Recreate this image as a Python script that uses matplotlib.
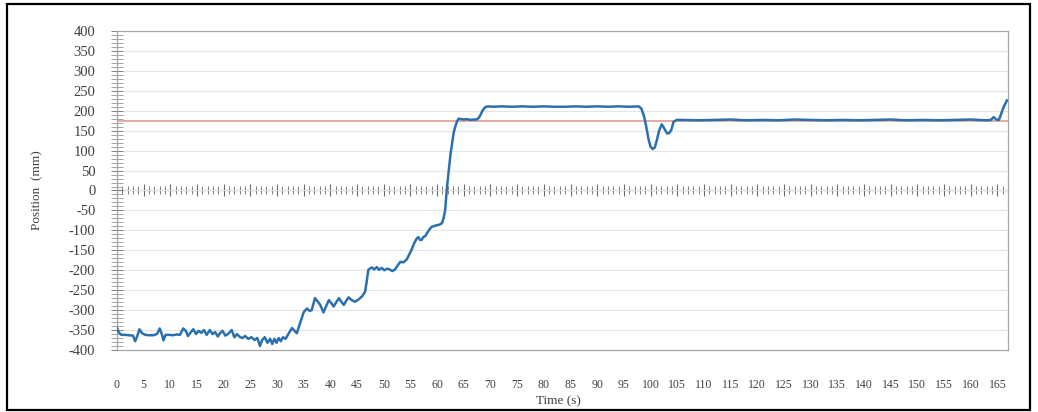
import matplotlib
matplotlib.use("Agg")
import matplotlib.pyplot as plt
from matplotlib.patches import Rectangle
from matplotlib.ticker import MultipleLocator, NullFormatter

plt.rcParams["axes.unicode_minus"] = False

# Measured position trace (time in s, position in mm)
time_s = [
    0.0, 0.3, 0.8, 1.5, 2.2, 3.0, 3.4, 3.8, 4.2, 4.7, 5.3, 6.0, 6.8, 7.5, 8.0,
    8.4, 8.7, 9.1, 9.8, 10.5, 11.2, 11.8, 12.4, 12.9, 13.3, 13.8, 14.3, 14.8,
    15.3, 15.8, 16.3, 16.8, 17.4, 17.9, 18.4, 18.9, 19.3, 19.8, 20.3, 20.8,
    21.5, 22.0, 22.5, 23.0, 23.5, 24.0, 24.6, 25.2, 25.8, 26.3, 26.8, 27.2,
    27.7, 28.2, 28.7, 29.1, 29.5, 29.9, 30.3, 30.7, 31.1, 31.6, 32.2, 32.8,
    33.3, 33.7, 34.3, 35.0, 35.6, 36.1, 36.5, 37.1, 37.6, 38.1, 38.7, 39.2,
    39.7, 40.2, 40.6, 41.1, 41.6, 42.0, 42.5, 43.0, 43.4, 44.0, 44.6, 45.2,
    45.9, 46.5, 46.8, 47.1, 47.5, 47.8, 48.2, 48.7, 49.1, 49.6, 50.1, 50.6,
    51.1, 51.6, 52.1, 52.6, 53.1, 53.7, 54.3, 54.8, 55.2, 55.7, 56.2, 56.5,
    56.8, 57.1, 57.4, 57.8, 58.1, 58.6, 59.0, 59.5, 59.9, 60.4, 60.9, 61.2,
    61.5, 61.8, 62.1, 62.5, 62.8, 63.1, 63.4, 63.7, 64.0, 64.5, 65.0, 65.6,
    66.2, 66.8, 67.4, 67.8, 68.1, 68.5, 69.0, 69.5, 70.5, 72.0, 74.0, 76.0,
    78.0, 80.0, 82.0, 84.0, 86.0, 88.0, 90.0, 92.0, 94.0, 96.0, 97.8, 98.3,
    98.8, 99.2, 99.6, 100.0, 100.4, 100.8, 101.2, 101.6, 102.1, 102.6, 103.1,
    103.5, 103.9, 104.3, 104.9, 106.0, 109.0, 112.0, 115.0, 118.0, 121.0,
    124.0, 127.0, 130.0, 133.0, 136.0, 139.0, 142.0, 145.0, 148.0, 151.0,
    154.0, 157.0, 160.0, 163.0, 163.8, 164.3, 164.8, 165.3, 165.8, 166.2,
    166.8,
]
position_mm = [
    -345, -355, -362, -362, -363, -364, -378, -365, -348, -358, -362, -363,
    -363, -360, -346, -360, -376, -362, -362, -363, -361, -362, -346, -352,
    -365, -356, -348, -360, -352, -357, -350, -362, -350, -360, -355, -366,
    -358, -352, -364, -360, -350, -368, -360, -367, -370, -365, -372, -368,
    -375, -370, -390, -375, -368, -382, -372, -385, -372, -382, -370, -378,
    -368, -372, -358, -345, -352, -358, -333, -305, -296, -302, -300, -270,
    -278, -287, -306, -290, -275, -283, -291, -280, -270, -278, -287, -276,
    -268, -275, -279, -274, -266, -254, -228, -199, -195, -193, -198, -192,
    -199, -194, -200, -196, -198, -202, -198, -188, -179, -180, -173, -160,
    -149, -132, -120, -117, -124, -124, -117, -114, -107, -97, -91, -89, -87,
    -86, -82, -70, -50, 0, 40, 90, 118, 145, 160, 172, 180, 179, 178, 179,
    177, 178, 178, 182, 189, 200, 209, 211, 210, 211, 210, 211, 210, 211, 210,
    210, 211, 210, 211, 210, 211, 210, 211, 205, 185, 160, 130, 110, 104, 108,
    127, 150, 166, 155, 143, 144, 152, 172, 177, 177, 176, 177, 178, 176, 177,
    176, 178, 177, 176, 177, 176, 177, 178, 176, 177, 176, 177, 178, 176, 177,
    184, 178, 177, 195, 210, 226,
]

# Target position
target_mm = 175

x_major_ticks = list(range(0, 170, 5))
y_major_ticks = list(range(-400, 401, 50))

text_color = "#404040"
font = ["Liberation Serif", "DejaVu Serif"]

fig = plt.figure(figsize=(10.38, 4.12), dpi=100)
W, H = 1038, 412
ax = fig.add_axes([117 / W, 1 - 350 / H, (1008 - 117) / W, (350 - 31) / H])

ax.set_xlim(0, 167)
ax.set_ylim(-400, 400)

# Horizontal gridlines
ax.set_yticks(y_major_ticks)
ax.yaxis.set_minor_locator(MultipleLocator(10))
ax.grid(axis="y", which="major", color="#E4E4E4", linewidth=0.8)
ax.set_axisbelow(True)

ax.axhline(target_mm, color="#E2A596", linewidth=1.3, zorder=2)
ax.plot(time_s, position_mm, color="#2A70AE", linewidth=1.8, zorder=3)

for side in ["top", "right", "bottom", "left"]:
    ax.spines[side].set_color("#A6A6A6")
    ax.spines[side].set_linewidth(0.9)

# Y axis: crossing tick marks
ax.tick_params(axis="y", which="major", direction="inout", length=9,
               width=0.7, color="#7F7F7F", pad=11, labelsize=10.5,
               labelcolor=text_color)
ax.tick_params(axis="y", which="minor", direction="inout", length=8,
               width=0.6, color="#959595")
for lab in ax.get_yticklabels():
    lab.set_fontfamily(font)

# X labels along the bottom edge, no tick marks there
ax.set_xticks(x_major_ticks)
ax.set_xticklabels([str(v) for v in x_major_ticks], fontfamily=font)
ax.tick_params(axis="x", which="both", length=0, pad=21, labelsize=8.5,
               labelcolor=text_color)

# Horizontal axis crossing at zero with tick marks
sec = ax.secondary_xaxis(0.5)
sec.spines["bottom"].set_color("#8C8C8C")
sec.spines["bottom"].set_linewidth(0.8)
sec.set_xticks(x_major_ticks)
sec.xaxis.set_major_formatter(NullFormatter())
sec.xaxis.set_minor_locator(MultipleLocator(1))
sec.tick_params(axis="x", which="major", direction="inout", length=8,
                width=0.8, color="#6E6E6E", labeltop=False,
                labelbottom=False)
sec.tick_params(axis="x", which="minor", direction="inout", length=6,
                width=0.7, color="#7F7F7F")

fig.text(37 / W, 1 - 190.5 / H, "Position  (mm)", rotation=90, ha="center",
         va="center", fontsize=9.5, color=text_color, fontfamily=font)
fig.text(558 / W, 1 - 401 / H, "Time (s)", ha="center", va="center",
         fontsize=9.5, color=text_color, fontfamily=font)

# Outer frame
fig.patches.append(Rectangle((7 / W, 1 - 410 / H), (1030 - 7) / W,
                             (410 - 4) / H, transform=fig.transFigure,
                             fill=False, edgecolor="black", linewidth=1.6))

fig.savefig("out.png", dpi=100)
